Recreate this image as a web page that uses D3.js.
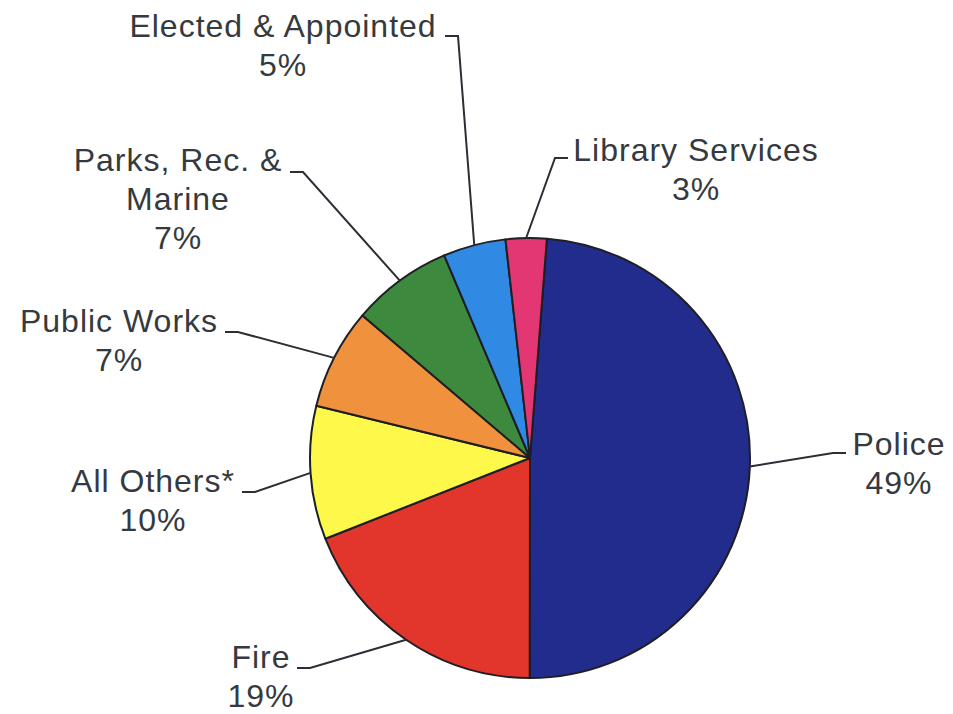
<!DOCTYPE html>
<html>
<head>
<meta charset="utf-8">
<script src="https://cdn.jsdelivr.net/npm/d3@7"></script>
<style>
  body { margin: 0; background: #fff; }
  svg { display: block; }
  .label { font-family: "Liberation Sans", Arial, sans-serif; font-size: 32px; fill: #353a40; letter-spacing: 1px; }
  .leader { fill: none; stroke: #2a2f35; stroke-width: 2; }
</style>
</head>
<body>
<svg width="953" height="714"></svg>
<script>
// data, clockwise from the top
const departments = ['Police', 'Fire', 'All Others*', 'Public Works', 'Parks, Rec. &\nMarine', 'Elected & Appointed', 'Library Services']
const shares = [48.8, 19.0, 9.8, 7.4, 7.4, 4.6, 3.0]
const colors = ['#222c8c', '#e2352b', '#fdf84a', '#f0913e', '#3d8a3e', '#3089e3', '#e23772']

// label layout: text centre x, first baseline, knee of the leader, side of the text
const labelLayout = [
  { x: 899, y: 455, knee: [833, 453], side: 1 },
  { x: 261, y: 668, knee: [310, 668], side: -1 },
  { x: 153, y: 492, knee: [255, 492], side: -1 },
  { x: 119, y: 332, knee: [238, 332], side: -1 },
  { x: 178, y: 171, knee: [303, 172], side: -1 },
  { x: 283, y: 37, knee: [458, 36], side: -1 },
  { x: 696, y: 161, knee: [555, 158], side: 1 }
]

const cx = 530, cy = 458, radius = 220
const startOffset = 4.4 * Math.PI / 180
const lineHeight = 39

const svg = d3.select('svg')
const chart = svg.append('g')
  .attr('transform', `translate(${cx}, ${cy})`)

const pie = d3.pie()
  .sort(null)
  .value(d => d.value)
  .startAngle(startOffset)
  .endAngle(startOffset + 2 * Math.PI)

const arc = d3.arc().innerRadius(0).outerRadius(radius)

const slices = pie(departments.map((name, i) => ({ name, value: shares[i], i })))

chart.selectAll('path.slice').data(slices)
  .enter().append('path')
    .classed('slice', true)
    .attr('d', arc)
    .attr('fill', d => colors[d.data.i])
    .attr('stroke', '#1e1e24')
    .attr('stroke-width', 2)
    .attr('stroke-linejoin', 'round')

// leaders
const leaders = svg.append('g')
slices.forEach(d => {
  const lay = labelLayout[d.data.i]
  const mid = (d.startAngle + d.endAngle) / 2
  const [px, py] = d3.pointRadial(mid, radius)
  const [kx, ky] = lay.knee
  const path = d3.path()
  path.moveTo(cx + px, cy + py)
  path.lineTo(kx, ky)
  path.lineTo(kx + lay.side * 13, ky)
  leaders.append('path')
    .classed('leader', true)
    .attr('d', path.toString())
})

// labels
const labels = svg.append('g')
slices.forEach(d => {
  const lay = labelLayout[d.data.i]
  const lines = d.data.name.split('\n').concat([`${Math.round(d.data.value)}%`])
  const text = labels.append('text')
    .classed('label', true)
    .attr('text-anchor', 'middle')
  lines.forEach((t, j) => {
    text.append('tspan')
      .attr('x', lay.x)
      .attr('y', lay.y + j * lineHeight)
      .text(t)
  })
})
</script>
</body>
</html>
